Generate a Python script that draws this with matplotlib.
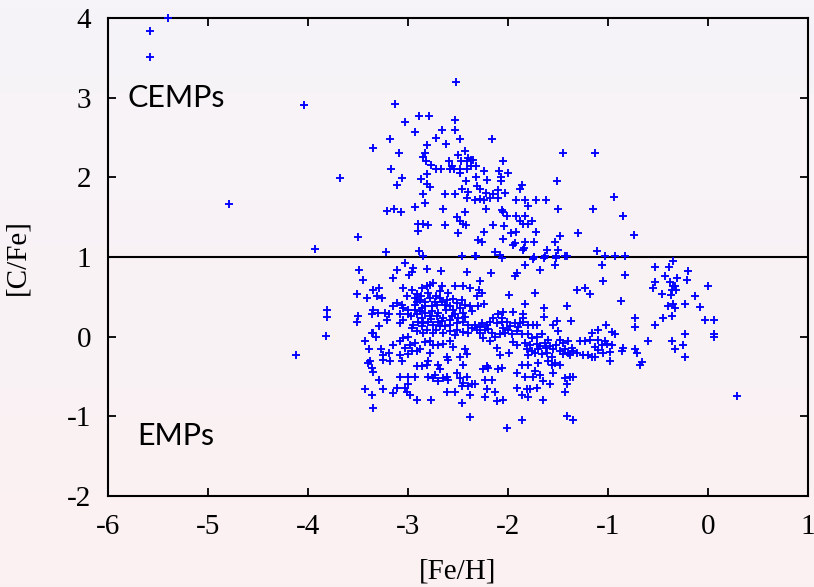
import numpy as np
import matplotlib
matplotlib.use("Agg")
import matplotlib.pyplot as plt

plt.rcParams['axes.unicode_minus'] = False

# ---- data: [Fe/H] and [C/Fe] ----
# outliers / very metal-poor stars
feh_out = [-5.58, -5.58, -5.40, -4.04, -4.79, -3.93, -3.81, -3.81, -3.82, -4.12, 0.29]
cfe_out = [3.84, 3.51, 4.00, 2.91, 1.66, 1.10, 0.33, 0.25, 0.01, -0.23, -0.74]

# carbon-enhanced group (upper)
upper = [
    (-2.52,3.20),(-3.13,2.92),(-2.89,2.77),(-2.79,2.77),(-3.03,2.70),(-2.53,2.72),(-2.93,2.57),(-2.66,2.60),
    (-2.53,2.60),(-2.72,2.50),(-3.18,2.48),(-2.48,2.48),(-2.62,2.42),(-2.81,2.40),(-3.35,2.37),(-3.09,2.30),
    (-2.83,2.31),(-2.85,2.25),(-2.43,2.33),(-2.50,2.28),(-2.40,2.24),(-2.37,2.22),(-2.41,2.20),(-2.35,2.22),
    (-2.82,2.21),(-2.59,2.21),(-2.47,2.20),(-2.77,2.16),(-2.56,2.14),(-2.72,2.10),(-2.67,2.10),(-2.58,2.10),
    (-2.54,2.10),(-2.48,2.10),(-2.41,2.11),(-2.37,2.14),(-2.32,2.14),(-3.17,2.10),(-2.48,2.06),(-2.24,2.08),
    (-2.81,2.04),(-3.06,1.99),(-2.87,1.98),(-2.32,2.00),(-2.21,1.97),(-2.42,1.95),(-3.11,1.90),(-2.81,1.92),
    (-2.78,1.88),(-2.31,1.89),(-2.28,1.86),(-2.85,1.79),(-2.63,1.79),(-2.53,1.79),(-2.46,1.85),(-2.40,1.81),
    (-2.22,1.80),(-2.41,1.74),(-2.33,1.71),(-2.28,1.73),(-2.24,1.72),(-2.83,1.68),(-2.93,1.63),(-3.21,1.58),
    (-3.14,1.60),(-3.07,1.57),(-2.65,1.60),(-2.22,1.60),(-2.43,1.56),(-2.51,1.50),(-2.48,1.45),(-2.45,1.42),
    (-2.42,1.40),(-2.90,1.42),(-2.85,1.42),(-2.80,1.40),(-2.63,1.40),(-2.90,1.33),(-2.50,1.30),(-2.24,1.31),
    (-2.30,1.21),(-2.26,1.19),(-3.50,1.25),(-3.22,1.06),(-2.89,1.08),(-2.85,1.01),(-2.46,1.01),(-2.32,1.01),
    (-3.68,1.99),
    (-2.16,2.48),(-1.45,2.30),(-1.13,2.31),(-2.05,2.21),(-2.09,2.08),(-2.00,2.06),(-2.07,2.00),(-2.07,1.95),
    (-1.51,1.95),(-1.86,1.91),(-1.88,1.85),(-2.10,1.84),(-2.03,1.80),(-2.15,1.79),(-2.18,1.74),(-2.10,1.74),
    (-1.92,1.71),(-1.83,1.71),(-1.72,1.71),(-1.62,1.71),(-0.94,1.75),(-1.80,1.64),(-1.50,1.60),(-1.15,1.60),
    (-2.06,1.59),(-2.05,1.57),(-0.85,1.52),(-2.01,1.51),(-1.92,1.51),(-1.83,1.51),(-2.15,1.40),(-2.04,1.39),
    (-1.88,1.45),(-1.85,1.42),(-1.80,1.42),(-1.76,1.45),(-1.72,1.31),(-1.97,1.30),(-1.92,1.32),(-1.30,1.30),
    (-0.74,1.28),(-2.05,1.22),(-1.93,1.18),(-1.95,1.15),(-1.83,1.19),(-1.74,1.19),(-1.48,1.26),(-1.53,1.19),
    (-1.84,1.11),(-1.85,1.09),(-1.61,1.09),(-1.50,1.09),(-1.11,1.07),(-2.13,1.06),(-2.08,1.02),(-1.74,1.00),
    (-1.63,1.01),(-1.52,1.01),(-1.43,1.01),(-1.03,1.01),(-0.93,1.01),(-0.83,1.01),
]

# normal group (lower), metal-poor part
lower_a = [
    (-3.03,0.92),(-2.95,0.86),(-2.96,0.81),(-2.99,0.77),(-3.11,0.84),(-3.15,0.74),(-2.81,0.85),(-2.67,0.82),
    (-2.41,0.81),(-3.49,0.84),(-3.45,0.71),(-3.29,0.61),(-3.35,0.59),(-3.31,0.51),(-3.26,0.49),(-3.51,0.53),
    (-3.41,0.49),(-3.05,0.61),(-3.01,0.51),(-2.86,0.61),(-2.81,0.63),(-2.78,0.65),(-2.75,0.67),(-2.66,0.64),
    (-2.53,0.64),(-2.45,0.64),(-2.38,0.61),(-2.87,0.51),(-2.91,0.54),(-2.72,0.51),(-2.68,0.49),(-3.11,0.42),
    (-3.06,0.40),(-3.15,0.38),(-3.05,0.36),(-3.00,0.34),(-2.93,0.40),(-2.91,0.44),(-2.88,0.46),(-2.83,0.44),
    (-2.78,0.49),(-2.76,0.38),(-2.71,0.40),(-2.66,0.44),(-2.61,0.46),(-2.58,0.38),(-2.51,0.42),(-2.48,0.36),
    (-2.43,0.40),(-2.38,0.38),(-2.36,0.32),(-2.45,0.30),(-2.53,0.28),(-2.58,0.21),(-2.65,0.23),(-2.71,0.26),
    (-2.78,0.26),(-2.83,0.30),(-2.88,0.32),(-2.91,0.28),(-2.90,0.19),(-2.85,0.17),(-2.80,0.19),(-2.75,0.15),
    (-2.70,0.19),(-2.63,0.13),(-2.58,0.15),(-2.51,0.17),(-2.45,0.19),(-2.40,0.15),(-2.36,0.11),(-2.95,0.15),
    (-2.96,0.11),(-2.91,0.07),(-2.86,0.13),(-2.81,0.09),(-2.75,0.05),(-2.65,0.05),(-2.58,0.07),(-2.51,0.09),
    (-3.35,0.34),(-3.36,0.28),(-3.30,0.30),(-3.23,0.30),(-3.19,0.28),(-3.21,0.21),(-3.08,0.28),(-3.05,0.21),
    (-3.08,0.17),(-3.50,0.26),(-3.51,0.19),(-3.29,0.13),(-3.35,0.05),(-3.32,0.00),(-3.36,0.05),(-3.05,-0.02),
    (-3.00,0.00),(-3.08,-0.06),(-2.98,-0.10),(-2.93,-0.08),(-3.03,-0.14),(-2.96,-0.18),(-2.91,-0.18),(-3.00,-0.22),
    (-2.88,-0.16),(-2.83,-0.07),(-2.78,-0.05),(-2.75,-0.10),(-2.70,-0.10),(-2.65,-0.09),(-2.58,-0.05),(-2.55,-0.13),
    (-2.43,-0.15),(-2.41,-0.22),(-2.48,-0.25),(-3.43,-0.05),(-3.39,-0.15),(-3.27,-0.16),(-3.15,-0.10),(-3.19,-0.20),
    (-3.25,-0.23),(-3.25,-0.29),(-3.18,-0.31),(-3.08,-0.23),(-3.06,-0.31),(-3.38,-0.30),(-3.40,-0.33),(-3.36,-0.39),
    (-3.35,-0.44),(-2.78,-0.20),(-2.80,-0.31),(-2.81,-0.35),(-2.86,-0.37),(-2.70,-0.35),(-2.61,-0.25),(-2.60,-0.29),
    (-2.68,-0.41),(-2.91,-0.37),(-2.45,-0.35),(-3.29,-0.55),(-3.43,-0.66),(-3.36,-0.73),(-3.25,-0.66),(-3.15,-0.71),
    (-3.11,-0.64),(-3.08,-0.51),(-3.00,-0.51),(-2.93,-0.51),(-3.03,-0.64),(-3.00,-0.60),(-3.01,-0.69),(-2.98,-0.73),
    (-2.80,-0.51),(-2.75,-0.52),(-2.73,-0.48),(-2.70,-0.56),(-2.65,-0.52),(-2.60,-0.55),(-2.61,-0.50),(-2.51,-0.46),
    (-2.48,-0.52),(-2.45,-0.58),(-2.40,-0.62),(-2.36,-0.60),(-2.41,-0.50),(-2.61,-0.69),(-2.53,-0.69),(-2.46,-0.62),
    (-2.38,-0.73),(-2.91,-0.80),(-2.77,-0.80),(-2.46,-0.83),(-3.35,-0.89),(-2.38,-1.01),
    # stars hidden in the densest clump
    (-2.93,0.48),(-2.86,0.36),(-2.76,0.32),(-2.70,0.30),(-2.62,0.33),(-2.55,0.33),(-2.50,0.24),(-2.43,0.25),
    (-2.68,0.13),(-2.72,0.08),(-2.86,0.23),(-2.97,0.26),(-2.63,0.40),(-2.55,0.47),(-2.46,0.46),(-2.73,0.44),
    (-2.83,0.38),(-2.68,0.57),(-2.60,0.55),(-2.93,0.34),(-3.00,0.28),(-2.53,0.02),(-2.45,0.06),(-2.40,0.04),
    (-2.66,0.20),(-2.77,0.22),(-2.85,0.05),(-2.56,0.26),(-2.80,0.55),(-2.96,0.58),
]

# normal group (lower), more metal-rich part
lower_b = [
    (-2.33,1.01),(-2.06,0.99),(-1.83,0.90),(-1.75,0.97),(-1.68,0.84),(-1.64,0.99),(-1.53,0.90),(-1.52,0.99),
    (-1.41,1.01),(-1.91,0.80),(-1.93,0.76),(-2.17,0.80),(-2.28,0.70),(-2.29,0.58),(-2.31,0.51),(-2.26,0.55),
    (-2.24,0.41),(-2.30,0.38),(-1.99,0.52),(-1.73,0.55),(-1.83,0.41),(-1.31,0.59),(-1.23,0.61),(-1.18,0.53),
    (-1.41,0.39),(-1.64,0.36),(-1.64,0.25),(-1.37,0.20),(-1.51,0.20),(-1.55,0.15),(-1.85,0.28),(-1.85,0.23),
    (-1.95,0.31),(-2.05,0.31),(-2.10,0.28),(-2.06,0.23),(-2.01,0.19),(-2.33,0.15),(-2.31,0.09),(-2.26,0.17),
    (-2.21,0.15),(-2.23,0.08),(-2.18,0.19),(-2.15,0.23),(-2.11,0.17),(-2.06,0.19),(-2.05,0.11),(-2.00,0.09),
    (-2.03,0.05),(-2.08,0.03),(-2.13,0.00),(-2.18,-0.06),(-2.11,-0.14),(-2.25,-0.02),(-2.28,0.05),(-1.96,0.03),
    (-1.93,0.17),(-1.88,0.17),(-1.85,0.19),(-1.80,0.15),(-1.75,0.15),(-1.71,0.15),(-1.91,0.07),(-1.86,0.03),
    (-1.80,0.03),(-1.76,-0.02),(-1.71,0.00),(-1.66,0.03),(-1.95,-0.07),(-1.91,-0.10),(-1.83,-0.08),(-1.78,-0.10),
    (-1.71,-0.09),(-1.68,-0.12),(-1.81,-0.16),(-1.76,-0.18),(-1.80,-0.23),(-1.73,-0.20),(-1.63,-0.08),(-1.60,-0.04),
    (-1.58,-0.12),(-1.55,-0.16),(-1.61,-0.20),(-1.56,-0.25),(-1.50,0.07),(-1.48,-0.04),(-1.45,-0.08),(-1.48,-0.18),
    (-1.43,-0.16),(-1.40,-0.06),(-1.36,-0.14),(-1.35,-0.18),(-1.31,-0.20),(-1.28,-0.06),(-1.23,-0.06),(-1.18,-0.04),
    (-1.16,0.05),(-1.25,-0.23),(-1.20,-0.23),(-1.16,-0.25),(-1.38,-0.23),(-1.45,-0.22),(-2.08,-0.23),(-1.99,-0.20),
    (-2.25,-0.41),(-2.21,-0.37),(-2.20,-0.39),(-2.10,-0.41),(-2.06,-0.39),(-1.86,-0.35),(-1.80,-0.35),(-1.70,-0.33),
    (-1.60,-0.31),(-1.56,-0.35),(-1.53,-0.33),(-1.48,-0.35),(-1.91,-0.46),(-1.83,-0.50),(-1.73,-0.43),(-1.75,-0.50),
    (-1.68,-0.48),(-1.65,-0.56),(-1.58,-0.60),(-1.55,-0.46),(-1.38,-0.50),(-1.35,-0.50),(-1.43,-0.52),(-1.41,-0.60),
    (-1.43,-0.69),(-2.23,-0.55),(-2.16,-0.54),(-2.33,-0.60),(-2.21,-0.66),(-2.23,-0.76),(-2.13,-0.69),(-2.11,-0.81),
    (-2.05,-0.80),(-1.91,-0.65),(-1.81,-0.66),(-1.78,-0.66),(-1.86,-0.73),(-1.80,-0.76),(-1.71,-0.64),(-1.65,-0.80),
    (-1.86,-1.05),(-2.01,-1.15),(-1.41,-1.00),(-1.35,-1.05),
    (-1.06,0.90),(-1.05,0.70),(-0.83,0.77),(-0.87,0.45),(-0.53,0.87),(-0.39,0.87),(-0.35,0.95),(-0.20,0.83),
    (-0.43,0.76),(-0.31,0.74),(-0.21,0.71),(-0.53,0.69),(-0.55,0.61),(-0.38,0.69),(-0.35,0.63),(-0.33,0.63),
    (-0.36,0.58),(-0.32,0.58),(-0.46,0.53),(-0.37,0.52),(-0.40,0.38),(-0.35,0.41),(-0.33,0.36),(-0.23,0.41),
    (-0.36,0.26),(-0.45,0.24),(-0.13,0.51),(-0.08,0.37),(0.00,0.64),(-0.03,0.21),(0.06,0.21),(0.06,0.03),
    (0.06,-0.01),(-0.23,0.03),(-0.36,-0.05),(-0.25,-0.11),(-0.33,-0.16),(-0.23,-0.25),(-0.53,0.15),(-0.60,-0.05),
    (-0.73,0.24),(-0.73,0.12),(-1.02,0.15),(-1.10,0.09),(-0.96,0.06),(-0.93,0.03),(-1.10,-0.04),(-1.03,-0.05),
    (-1.13,-0.13),(-1.06,-0.11),(-1.01,-0.09),(-0.96,-0.10),(-1.13,-0.25),(-0.98,-0.19),(-0.86,-0.18),(-0.85,-0.14),
    (-0.73,-0.16),(-0.71,-0.20),(-0.98,-0.31),(-0.68,-0.35),(-0.66,-0.32),
    # stars hidden in dense parts
    (-2.20,0.10),(-2.16,0.05),(-2.28,0.12),(-1.98,0.14),(-1.90,0.12),(-1.70,-0.15),(-1.52,-0.10),(-1.62,-0.14),
    (-1.66,-0.22),(-1.40,-0.20),(-1.10,-0.17),(-1.05,-0.20),
]

feh = feh_out + [p[0] for p in upper + lower_a + lower_b]
cfe = cfe_out + [p[1] for p in upper + lower_a + lower_b]

xticks = [-6, -5, -4, -3, -2, -1, 0, 1]
yticks = [-2, -1, 0, 1, 2, 3, 4]
divider_cfe = 1.0

# ---- figure ----
fig = plt.figure(figsize=(8.14, 5.87), dpi=100)

# soft vertical gradient background
bg = fig.add_axes([0, 0, 1, 1], zorder=-10)
top = np.array([0.965, 0.957, 0.976])
bot = np.array([0.988, 0.945, 0.949])
t = np.linspace(0, 1, 256)[:, None]
grad = top[None, :] * (1 - t) + bot[None, :] * t
bg.imshow(grad[:, None, :], aspect='auto', extent=[0, 1, 0, 1])
bg.axis('off')

ax = fig.add_axes([0.1327, 0.155, 0.86, 0.8143])
ax.set_facecolor('none')

ax.plot(feh, cfe, linestyle='none', marker='+', color=(0, 0, 1),
        markersize=6.4, markeredgewidth=1.35, clip_on=False, zorder=3)
ax.axhline(divider_cfe, color='black', linewidth=1.5, zorder=2)

ax.set_xlim(-6, 1)
ax.set_ylim(-2, 4)
ax.set_xticks(xticks)
ax.set_yticks(yticks)
ax.set_xticklabels([str(v) for v in xticks])
ax.set_yticklabels([str(v) for v in yticks])

for s in ax.spines.values():
    s.set_linewidth(1.5)
ax.tick_params(direction='in', length=6, width=1.3, top=True, right=True,
               labelsize=21)
ax.tick_params(axis='x', pad=13)
ax.tick_params(axis='y', pad=12)
for lab in ax.get_xticklabels() + ax.get_yticklabels():
    lab.set_fontfamily('Liberation Serif')

ax.set_xlabel('[Fe/H]', fontfamily='Liberation Serif', fontsize=21, labelpad=13)
ax.set_ylabel('[C/Fe]', fontfamily='Liberation Serif', fontsize=21, labelpad=26)

ax.text(-5.81, 3.0, 'CEMPs', fontfamily='Lato', fontsize=22, va='center', ha='left')
ax.text(-5.71, -1.25, 'EMPs', fontfamily='Lato', fontsize=22, va='center', ha='left')

fig.savefig('out.png', dpi=100)
